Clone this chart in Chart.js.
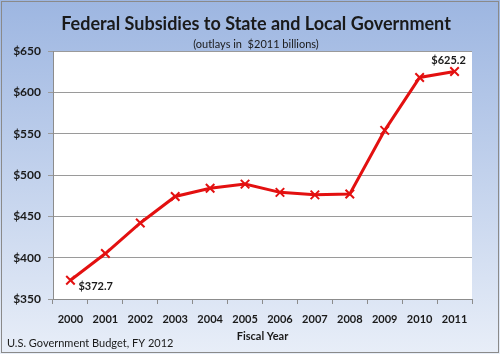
<!DOCTYPE html>
<html>
<head>
<meta charset="utf-8">
<script src="https://cdn.jsdelivr.net/npm/chart.js@4"></script>
<style>
  html, body { margin: 0; padding: 0; }
  #wrap { width: 500px; height: 354px; }
</style>
</head>
<body>
<div id="wrap"><canvas id="chart"></canvas></div>
<script>
const years = ["2000", "2001", "2002", "2003", "2004", "2005", "2006", "2007", "2008", "2009", "2010", "2011"];
const outlays = [372.7, 405, 442, 474, 484, 489, 479, 476, 477, 554, 618, 625.2];
const labelled = { 0: "$372.7", 11: "$625.2" };

const FONT = "Lato, 'Open Sans', sans-serif";

// gradient background, white plot area, texts
const decor = {
  id: "decor",
  beforeDraw(chart) {
    const { ctx, width, height, chartArea } = chart;
    const g = ctx.createLinearGradient(0, 0, 0, height);
    g.addColorStop(0, "#9db6e1");
    g.addColorStop(1, "#e8eef8");
    ctx.save();
    ctx.fillStyle = g;
    ctx.fillRect(0, 0, width, height);
    ctx.strokeStyle = "#8a8a8a";
    ctx.lineWidth = 1;
    ctx.strokeRect(1.5, 1.5, width - 3, height - 3);
    ctx.fillStyle = "#ffffff";
    ctx.fillRect(chartArea.left, chartArea.top, chartArea.right - chartArea.left, chartArea.bottom - chartArea.top);

    ctx.fillStyle = "#1a1a1a";
    ctx.textAlign = "center";
    ctx.textBaseline = "middle";
    ctx.font = "bold 18px " + FONT;
    ctx.fillText("Federal Subsidies to State and Local Government", 256, 24);
    ctx.font = "11px " + FONT;
    ctx.fillText("(outlays in  $2011 billions)", 256, 44);
    ctx.textAlign = "left";
    ctx.font = "11px " + FONT;
    ctx.fillText("U.S. Government Budget, FY 2012", 7, 343);
    ctx.restore();
  },
  afterDatasetsDraw(chart) {
    const { ctx } = chart;
    const meta = chart.getDatasetMeta(0);
    ctx.save();
    ctx.fillStyle = "#1a1a1a";
    ctx.font = "bold 11px " + FONT;
    ctx.textBaseline = "middle";
    Object.keys(labelled).forEach(i => {
      const p = meta.data[i];
      if (i == 0) {
        ctx.textAlign = "left";
        ctx.fillText(labelled[i], p.x + 8, p.y + 6);
      } else {
        ctx.textAlign = "center";
        ctx.fillText(labelled[i], p.x - 6, p.y - 11);
      }
    });
    ctx.restore();
  }
};

new Chart(document.getElementById("chart"), {
  type: "line",
  data: {
    labels: years,
    datasets: [{
      data: outlays,
      borderColor: "#e31010",
      borderWidth: 3,
      pointStyle: "crossRot",
      pointRadius: 6,
      pointBorderColor: "#e31010",
      pointBorderWidth: 2,
      tension: 0
    }]
  },
  options: {
    responsive: true,
    maintainAspectRatio: false,
    animation: false,
    layout: { padding: { top: 51, right: 28, bottom: 11, left: 0 } },
    plugins: {
      legend: { display: false },
      tooltip: { enabled: false }
    },
    scales: {
      x: {
        offset: true,
        grid: { drawOnChartArea: false, offset: true, tickLength: 5, color: "#8c8c8c" },
        border: { color: "#8c8c8c" },
        ticks: { color: "#1a1a1a", font: { family: FONT, size: 11, weight: "bold" }, padding: 9, maxRotation: 0, autoSkip: false },
        title: { display: true, text: "Fiscal Year", color: "#1a1a1a", font: { family: FONT, size: 11, weight: "bold" }, padding: { top: 1, bottom: 0 } },
        afterFit(scale) { scale.height = 44; }
      },
      y: {
        min: 350,
        max: 650,
        grid: { color: "#9a9a9a", tickLength: 5 },
        border: { color: "#8c8c8c" },
        ticks: {
          stepSize: 50,
          color: "#1a1a1a",
          padding: 7,
          font: { family: FONT, size: 12, weight: "bold" },
          callback: v => "$" + v
        },
        afterFit(scale) { scale.width = 53; }
      }
    }
  },
  plugins: [decor]
});
</script>
</body>
</html>
